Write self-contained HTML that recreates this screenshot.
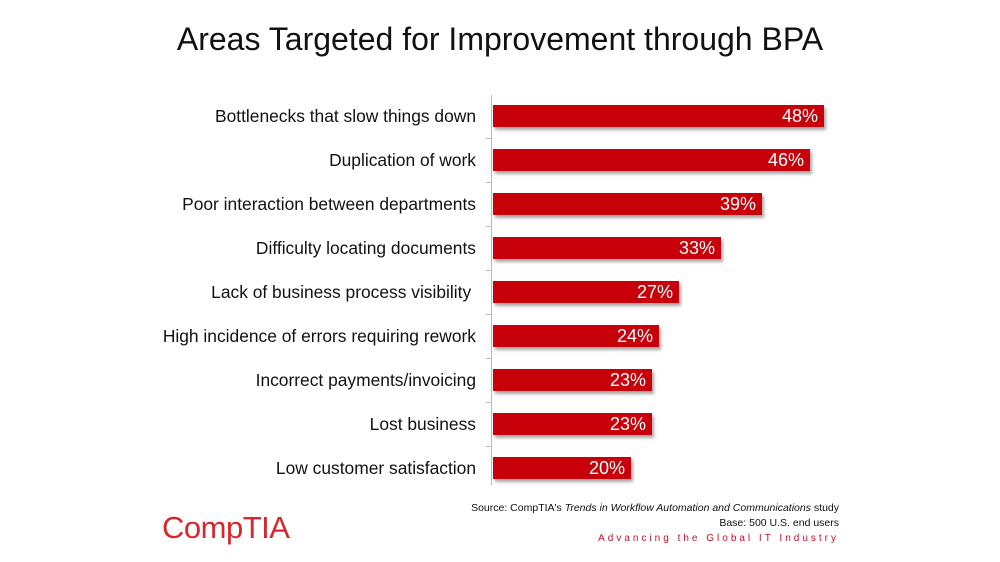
<!DOCTYPE html>
<html><head><style>
body{margin:0;width:1000px;height:562px;background:#fff;position:relative;overflow:hidden;font-family:"Liberation Sans",sans-serif}
.t{position:absolute;left:0;width:1000px;top:21px;text-align:center;font-size:32px;color:#111}
.l{position:absolute;right:524px;font-size:17.4px;color:#111;white-space:nowrap;line-height:22px}
.b{position:absolute;left:493px;height:22px;background:#c8000a;box-shadow:2px 3px 3px rgba(0,0,0,.35);color:#fff;font-size:18px;line-height:23px;text-align:right;box-sizing:border-box;padding-right:6px}
.ax{position:absolute;left:491px;top:95px;width:1px;height:390px;background:#bbb}
.tk{position:absolute;left:486px;width:5px;height:1px;background:#bbb}
.s{position:absolute;right:161px;font-size:10.5px;color:#111;text-align:right}
</style></head><body>
<div class="t">Areas Targeted for Improvement through BPA</div>
<div class="ax"></div>
<div class="tk" style="top:138px"></div><div class="tk" style="top:182px"></div><div class="tk" style="top:226px"></div><div class="tk" style="top:270px"></div><div class="tk" style="top:314px"></div><div class="tk" style="top:358px"></div><div class="tk" style="top:402px"></div><div class="tk" style="top:446px"></div>
<div class="l" style="top:105px">Bottlenecks that slow things down</div><div class="b" style="top:105px;width:331px">48%</div>
<div class="l" style="top:149px">Duplication of work</div><div class="b" style="top:149px;width:317px">46%</div>
<div class="l" style="top:193px">Poor interaction between departments</div><div class="b" style="top:193px;width:269px">39%</div>
<div class="l" style="top:237px">Difficulty locating documents</div><div class="b" style="top:237px;width:228px">33%</div>
<div class="l" style="top:281px">Lack of business process visibility&nbsp;</div><div class="b" style="top:281px;width:186px">27%</div>
<div class="l" style="top:325px">High incidence of errors requiring rework</div><div class="b" style="top:325px;width:166px">24%</div>
<div class="l" style="top:369px">Incorrect payments/invoicing</div><div class="b" style="top:369px;width:159px">23%</div>
<div class="l" style="top:413px">Lost business</div><div class="b" style="top:413px;width:159px">23%</div>
<div class="l" style="top:457px">Low customer satisfaction</div><div class="b" style="top:457px;width:138px">20%</div>
<div class="s" style="top:502px">Source: CompTIA's <i>Trends in Workflow Automation and Communications</i> study</div>
<div class="s" style="top:517px">Base: 500 U.S. end users</div>
<div class="s" style="top:533px;color:#c8102e;letter-spacing:3px;font-size:10px">Advancing the Global IT Industry</div>
<div style="position:absolute;left:162px;top:510px;font-size:31px;color:#d7262e;letter-spacing:-0.5px">CompTIA<span style="font-size:6px">.</span></div>
</body></html>
